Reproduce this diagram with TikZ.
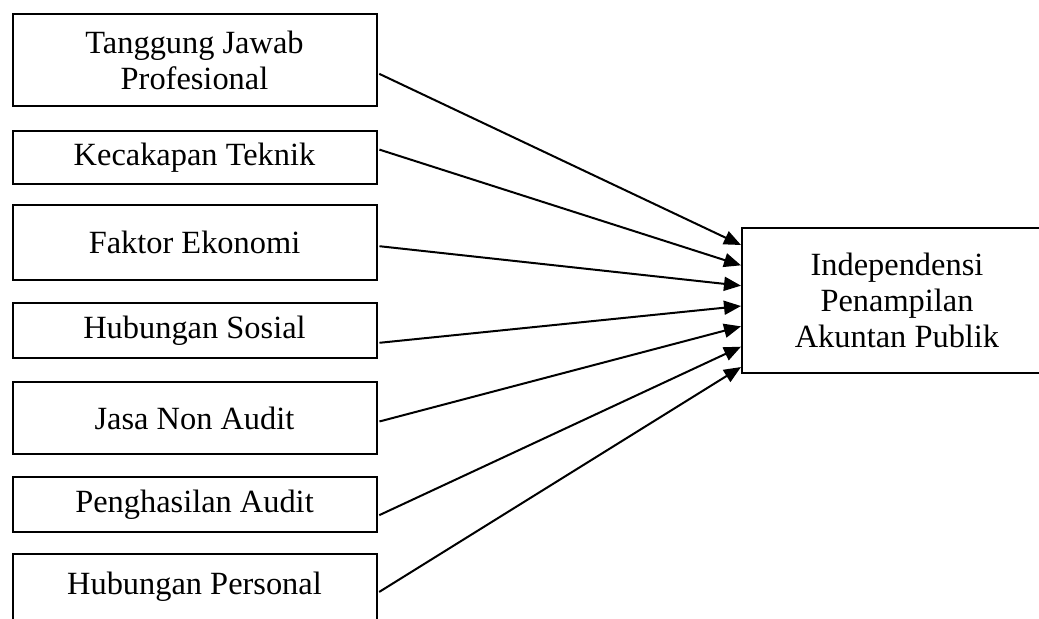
\documentclass[tikz,border=0pt]{standalone}
\usepackage{fontspec}
\setmainfont{Liberation Serif}
\usetikzlibrary{arrows.meta, positioning, calc}

\begin{document}
\begin{tikzpicture}[x=0.5pt, y=-0.5pt,
        box/.style={draw, line width=1pt, minimum width=182pt, inner sep=0pt,
            align=center, font=\fontsize{16.2}{18}\selectfont},
        link/.style={line width=1pt, shorten <=1pt,
            -{Triangle[length=8.5pt, width=7pt]}}]

        \clip (0,0) rectangle (1039,619);

        \node[box, minimum height=46pt] (tanggung) at (194.5,60) {Tanggung Jawab\\Profesional};
        \node[box, minimum height=26.5pt] (kecakapan) at (194.5,157.5) {Kecakapan Teknik};
        \node[box, minimum height=37.5pt] (faktor) at (194.5,242.5) {Faktor Ekonomi};
        \node[box, minimum height=27.5pt] (sosial) at (194.5,330.5) {Hubungan Sosial};
        \node[box, minimum height=36pt] (jasa) at (194.5,418) {Jasa Non Audit};
        \node[box, minimum height=27.5pt] (penghasilan) at (194.5,504.5) {Penghasilan Audit};
        \node[box, anchor=north, text height=20.5pt, text depth=30pt] (personal) at (194.5,553) {Hubungan Personal};

        \node[box, minimum width=155pt, minimum height=72.5pt] (indep) at (897,300.5)
            {Independensi\\Penampilan\\Akuntan Publik};

        \foreach \src/\ds/\k in {tanggung/-6.5/0, kecakapan/4.25/1, faktor/-1.75/2,
                sosial/-6.25/3, jasa/-2/4, penghasilan/-5.75/5, personal/5.75/6}
            \draw[link] ([yshift=\ds pt]\src.east) -- ([yshift={27.75pt-10.17pt*\k}]indep.west);
\end{tikzpicture}
\end{document}
